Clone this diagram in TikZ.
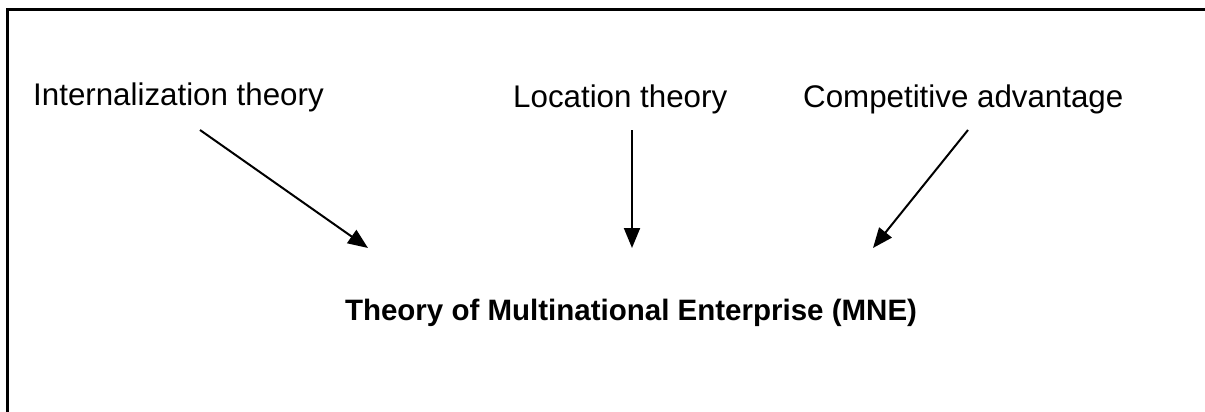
\documentclass[tikz,border=0pt]{standalone}
\usepackage{fontspec}
\setmainfont{Liberation Sans}
\usetikzlibrary{arrows.meta}
\begin{document}
\begin{tikzpicture}[x=1pt,y=-1pt,
  lbl/.style={anchor=base west,inner sep=0pt,font=\fontsize{31.3}{36}\selectfont},
  ttl/.style={anchor=base,inner sep=0pt,font=\fontsize{29.5}{36}\selectfont\bfseries},
  arr/.style={line width=2pt,-{Triangle[length=20pt,width=16pt]}},
  frame/.style={line width=2.2pt}]
\useasboundingbox (0,0) rectangle (1205,412);
\draw[frame] (7.5,412) -- (7.5,9.5) -- (1205,9.5);
\node[lbl] (int) at (33,106) {Internalization theory};
\node[lbl] (loc) at (513,107) {Location theory};
\node[lbl] (comp) at (803,107) {Competitive advantage};
\node[ttl] (mne) at (631,320) {Theory of Multinational Enterprise (MNE)};
\coordinate (a1s) at (200,130);
\coordinate (a1e) at (368,248);
\coordinate (a2s) at (632,130);
\coordinate (a2e) at (632,248);
\coordinate (a3s) at (968,130);
\coordinate (a3e) at (873,248);
\draw[arr] (a1s) -- (a1e);
\draw[arr] (a2s) -- (a2e);
\draw[arr] (a3s) -- (a3e);
\end{tikzpicture}
\end{document}
